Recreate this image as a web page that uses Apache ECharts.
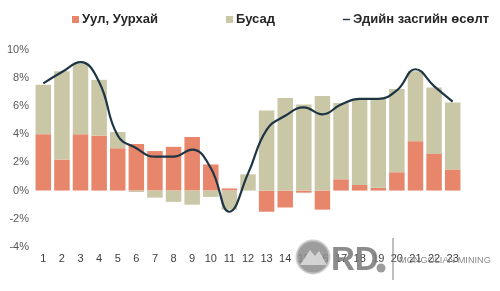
<!DOCTYPE html>
<html><head><meta charset="utf-8">
<script src="https://cdn.jsdelivr.net/npm/echarts@6/dist/echarts.min.js"></script>
<style>html,body{margin:0;padding:0;background:#fff}#c{width:500px;height:291px}</style>
</head><body><div id="c"></div>
<script>
const categories = ['1','2','3','4','5','6','7','8','9','10','11','12','13','14','15','16','17','18','19','20','21','22','23'];
const mining = [4.0, 2.2, 4.0, 3.9, 3.0, 3.3, 2.8, 3.1, 3.8, 1.85, 0.15, 0, -1.5, -1.2, -0.15, -1.35, 0.8, 0.4, 0.2, 1.3, 3.5, 2.6, 1.5];
const other = [3.5, 6.25, 5.0, 3.95, 1.15, -0.1, -0.5, -0.8, -1.0, -0.45, -1.35, 1.15, 5.67, 6.57, 6.1, 6.7, 5.4, 6.05, 6.3, 5.9, 4.95, 4.7, 4.75];
const growth = [7.6, 8.4, 9.1, 7.7, 3.9, 3.0, 2.4, 2.4, 2.9, 1.6, -1.5, 1.2, 4.3, 5.3, 5.9, 5.4, 6.1, 6.5, 6.5, 7.1, 8.6, 7.4, 6.3];
const names = ['Уул, Уурхай', 'Бусад', 'Эдийн засгийн өсөлт'];

const chart = echarts.init(document.getElementById('c'), null, {renderer: 'canvas'});
chart.setOption({
  backgroundColor: '#fff',
  animation: false,
  textStyle: {fontFamily: 'Liberation Sans, Arial, sans-serif'},
  legend: {
    left: 67, top: 8, width: 440, itemGap: 68, itemWidth: 7, itemHeight: 7,
    textStyle: {fontSize: 13, fontWeight: 'bold', color: '#262626', padding: [0,0,0,-2]},
    data: [
      {name: names[0], icon: 'rect'},
      {name: names[1], icon: 'rect'},
      {name: names[2], icon: 'path://M0,0 h10 v2 h-10z', itemStyle: {color: '#1e3545'}}
    ]
  },
  grid: {left: 34, right: 38, top: 49.5, bottom: 44, containLabel: false},
  xAxis: {
    type: 'category', data: categories,
    axisLine: {show: false}, axisTick: {show: false},
    axisLabel: {color: '#404040', fontSize: 11, margin: 6}
  },
  yAxis: {
    type: 'value', min: -4, max: 10, interval: 2,
    splitLine: {show: false}, axisLine: {show: false}, axisTick: {show: false},
    axisLabel: {formatter: '{value}%', color: '#595959', fontSize: 11, margin: 5}
  },
  series: [
    {name: names[0], type: 'bar', stack: 'g', data: mining, barWidth: 15.5,
     itemStyle: {color: '#e8866b'}},
    {name: names[1], type: 'bar', stack: 'g', data: other, barWidth: 15.5,
     itemStyle: {color: '#cac7a7'}},
    {name: names[2], type: 'line', data: growth, smooth: 0.45, symbol: 'none',
     lineStyle: {color: '#1e3545', width: 2.2}, itemStyle: {color: '#1e3545'}, z: 5}
  ],
  graphic: [
    {type: 'circle', shape: {cx: 313, cy: 257, r: 16.5}, style: {fill: '#8c8c8c', stroke: '#c8c8c8', lineWidth: 2, opacity: 0.85}, z: 10},
    {type: 'polygon', shape: {points: [[300,265],[310,250],[315,256],[319,251],[327,265]]}, style: {fill: '#d9d9d9', opacity: 0.9}, z: 11},
    {type: 'text', left: 331, top: 244, style: {text: 'RD', fontSize: 33, fontWeight: 'bold', fill: '#7f7f7f', opacity: 0.9, fontFamily: 'Liberation Sans, Arial'}, z: 10},
    {type: 'circle', shape: {cx: 381, cy: 268, r: 4.5}, style: {fill: '#8c8c8c', opacity: 0.85}, z: 10},
    {type: 'line', shape: {x1: 393, y1: 238, x2: 393, y2: 280}, style: {stroke: '#7f7f7f', lineWidth: 1}, z: 10},
    {type: 'text', left: 399, top: 256, style: {text: 'MONGOLIAN MINING', fontSize: 9.2, fill: '#8a8a8a', fontFamily: 'Liberation Sans, Arial'}, z: 10}
  ]
});
</script></body></html>
